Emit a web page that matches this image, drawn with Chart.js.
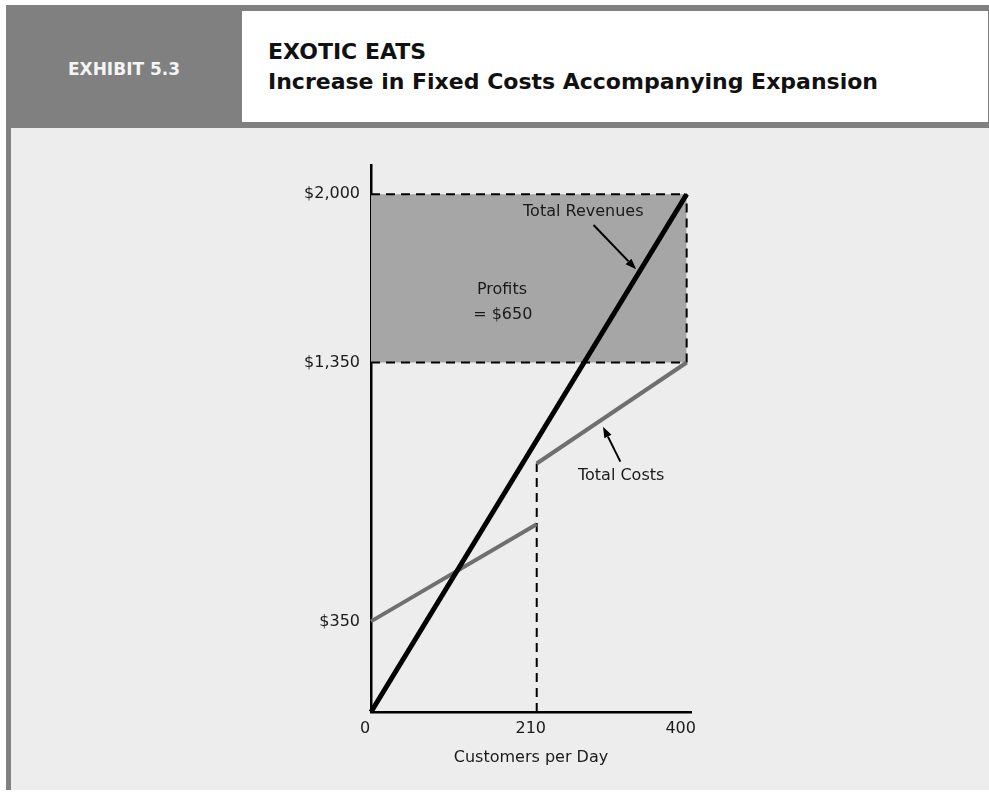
<!DOCTYPE html>
<html lang="en">
<head>
    <meta charset="UTF-8">
    <title>Exotic Eats - Exhibit 5.3</title>
    <style>
        body {
            margin: 0;
            background: #ffffff;
            font-family: "DejaVu Sans", sans-serif;
        }
        .frame {
            position: absolute;
            left: 6px;
            top: 5px;
            width: 983px;
            height: 785px;
            background: #808080;
        }
        .exhibit {
            position: absolute;
            left: 6px;
            top: 59px;
            width: 236px;
            text-align: center;
            font-weight: bold;
            font-size: 17px;
            line-height: 20px;
            color: #f4f4f4;
        }
        .title-box {
            position: absolute;
            left: 242px;
            top: 11px;
            width: 746px;
            height: 111px;
            background: #ffffff;
        }
        .title {
            position: absolute;
            left: 268px;
            top: 37px;
            font-weight: bold;
            font-size: 22px;
            line-height: 30px;
            color: #111111;
        }
        .panel {
            position: absolute;
            left: 11px;
            top: 128px;
            width: 978px;
            height: 662px;
            background: #ededed;
        }
        #chart {
            position: absolute;
            left: 0;
            top: 0;
        }
    </style>
    <script src="https://cdn.jsdelivr.net/npm/chart.js"></script>
</head>
<body>
    <div class="frame"></div>
    <div class="exhibit">EXHIBIT 5.3</div>
    <div class="title-box"></div>
    <div class="title">EXOTIC EATS<br>Increase in Fixed Costs Accompanying Expansion</div>
    <div class="panel"></div>
    <canvas id="chart" width="989" height="793"></canvas>

    <script>
        const customersPerDay = [0, 400];
        const totalRevenues = [0, 2000];
        const costsBeforeX = [0, 210];
        const costsBefore = [350, 725];
        const costsAfterX = [210, 400];
        const costsAfter = [960, 1350];
        const profitTop = [2000, 2000];
        const profitBottom = [1350, 1350];
        const xTicks = [0, 210, 400];
        const yTicks = [350, 1350, 2000];

        // text notes, placed in data units
        const notes = [
            { text: 'Total Revenues', x: 269, y: 1932 },
            { text: 'Profits', x: 166, y: 1630 },
            { text: '= $650', x: 167, y: 1534 },
            { text: 'Total Costs', x: 317, y: 912 }
        ];
        const arrows = [
            { from: [282, 1881], to: [336, 1710] },
            { from: [316, 967], to: [294, 1102] }
        ];

        const zip = (xs, ys) => xs.map((x, i) => ({ x: x, y: ys[i] }));

        const dashed = [9, 6];
        const lineBase = { showLine: true, pointRadius: 0, clip: false, fill: false };

        const notesPlugin = {
            id: 'notes',
            afterDatasetsDraw(chart) {
                const { ctx, scales: { x, y } } = chart;
                ctx.save();
                ctx.fillStyle = '#1a1a1a';
                ctx.font = '16px "DejaVu Sans", sans-serif';
                ctx.textAlign = 'center';
                ctx.textBaseline = 'middle';
                notes.forEach(n => ctx.fillText(n.text, x.getPixelForValue(n.x), y.getPixelForValue(n.y)));

                ctx.strokeStyle = '#000';
                ctx.fillStyle = '#000';
                ctx.lineWidth = 2;
                arrows.forEach(a => {
                    const x1 = x.getPixelForValue(a.from[0]), y1 = y.getPixelForValue(a.from[1]);
                    const x2 = x.getPixelForValue(a.to[0]), y2 = y.getPixelForValue(a.to[1]);
                    const ang = Math.atan2(y2 - y1, x2 - x1);
                    const head = 11, half = 4;
                    const bx = x2 - head * Math.cos(ang), by = y2 - head * Math.sin(ang);
                    ctx.beginPath();
                    ctx.moveTo(x1, y1);
                    ctx.lineTo(bx, by);
                    ctx.stroke();
                    ctx.beginPath();
                    ctx.moveTo(x2, y2);
                    ctx.lineTo(bx + half * Math.sin(ang), by - half * Math.cos(ang));
                    ctx.lineTo(bx - half * Math.sin(ang), by + half * Math.cos(ang));
                    ctx.closePath();
                    ctx.fill();
                });
                ctx.restore();
            }
        };

        Chart.defaults.font.family = '"DejaVu Sans", sans-serif';
        Chart.defaults.font.size = 16;
        Chart.defaults.color = '#1a1a1a';

        new Chart(document.getElementById('chart'), {
            type: 'scatter',
            data: {
                datasets: [
                    { ...lineBase, label: 'Total Revenues', data: zip(customersPerDay, totalRevenues), borderColor: '#000000', borderWidth: 5 },
                    { ...lineBase, label: 'Total Costs (before)', data: zip(costsBeforeX, costsBefore), borderColor: '#6f6f6f', borderWidth: 4 },
                    { ...lineBase, label: 'Total Costs (after)', data: zip(costsAfterX, costsAfter), borderColor: '#6f6f6f', borderWidth: 4 },
                    { ...lineBase, label: '$1,350', data: zip(customersPerDay, profitBottom), borderColor: '#000', borderWidth: 2, borderDash: dashed },
                    { ...lineBase, label: 'edge', data: [{ x: customersPerDay[1], y: profitBottom[1] }, { x: customersPerDay[1], y: profitTop[1] }], borderColor: '#000', borderWidth: 2, borderDash: dashed },
                    { ...lineBase, label: 'expansion', data: [{ x: costsAfterX[0], y: 0 }, { x: costsAfterX[0], y: costsAfter[0] }], borderColor: '#000', borderWidth: 2, borderDash: dashed },
                    { ...lineBase, label: 'Profits', data: zip(customersPerDay, profitTop), borderColor: '#000', borderWidth: 2, borderDash: dashed, fill: 3, backgroundColor: '#a6a6a6' }
                ]
            },
            options: {
                responsive: false,
                animation: false,
                layout: { padding: { left: 291, right: 298, top: 165, bottom: 21 } },
                plugins: { legend: { display: false }, tooltip: { enabled: false } },
                scales: {
                    x: {
                        type: 'linear',
                        min: 0,
                        max: 405.5,
                        grid: { display: false, drawTicks: false },
                        border: { color: '#000', width: 2.5 },
                        afterBuildTicks: s => { s.ticks = xTicks.map(v => ({ value: v })); },
                        afterFit: s => { s.height = 60; },
                        ticks: { padding: 7, labelOffset: -6, autoSkip: false, maxRotation: 0 },
                        title: { display: true, text: 'Customers per Day', padding: { top: 0, bottom: 5 } }
                    },
                    y: {
                        min: 0,
                        max: 2113,
                        grid: { display: false, drawTicks: false },
                        border: { color: '#000', width: 2.5 },
                        afterBuildTicks: s => { s.ticks = yTicks.map(v => ({ value: v })); },
                        afterFit: s => { s.width = 80; },
                        ticks: { padding: 11, autoSkip: false, callback: v => '$' + v.toLocaleString('en-US') }
                    }
                }
            },
            plugins: [notesPlugin]
        });
    </script>
</body>
</html>
